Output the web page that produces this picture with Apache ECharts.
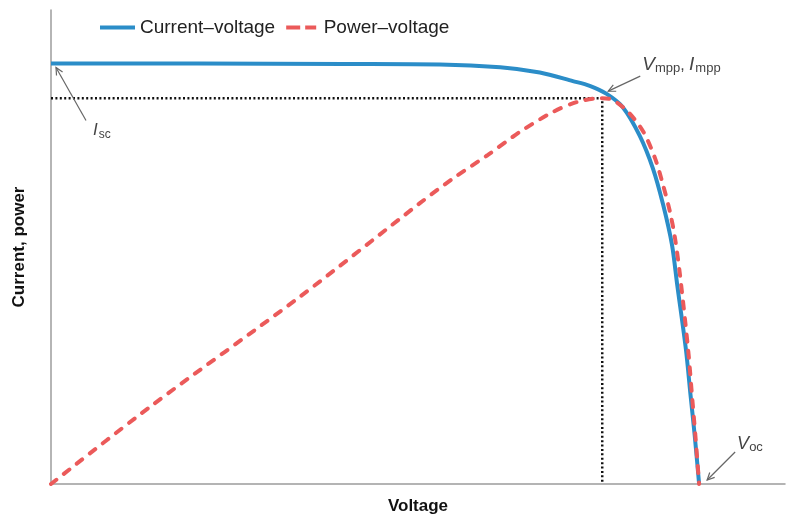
<!DOCTYPE html>
<html><head><meta charset="utf-8">
<script src="https://cdn.jsdelivr.net/npm/echarts@6/dist/echarts.min.js"></script>
<style>html,body{margin:0;padding:0;background:#fff}#c{width:786px;height:520px}</style>
</head><body><div id="c"></div>
<script>
// ---- data (arbitrary units; axes 0..100) ----
const seriesNames = ['Current\u2013voltage', 'Power\u2013voltage'];
const currentVoltage = [[0,88.7],[20,88.7],[40,88.6],[53,88.5],[61.2,87.9],[66.6,86.8],[71.1,85.0],[73.4,84.0],[75.7,82.3],[77.9,79.5],[80.2,73.5],[82.0,66.6],[83.4,58.9],[84.6,50.5],[85.3,42.2],[86.5,28.4],[87.1,19.2],[87.7,10.2],[88.3,0]];
const powerVoltage = [[0,0],[13.5,16.3],[33.9,39.5],[50.3,59.3],[54.8,64.5],[59.4,69.3],[63.9,74.3],[68.4,78.5],[71.7,80.6],[74.8,81.4],[76.2,81.2],[78.5,78.7],[80.7,74.3],[82.3,68.7],[83.4,63.0],[84.3,57.6],[85.0,52.0],[85.7,44.0],[86.8,28.4],[87.3,19.2],[87.8,10.0],[88.3,0]];
const mppVoltage = 75.1;
const mppLevel = 81.4;
const iscPoint = [0, 88.7];
const vocPoint = [88.3, 0];
const axisNames = ['Voltage', 'Current, power'];

const FONT = '"Liberation Sans", Arial, sans-serif';
const BLUE = '#2b8dc8', RED = '#eb5a5a';
const chart = echarts.init(document.getElementById('c'), null, {renderer: 'canvas'});

const axisCommon = {
  type: 'value', min: 0, max: 100,
  axisLine: {show: true, lineStyle: {color: '#9c9c9c', width: 1.5}},
  axisTick: {show: false}, axisLabel: {show: false}, splitLine: {show: false},
  nameLocation: 'middle',
  nameTextStyle: {fontFamily: FONT, fontWeight: 'bold', fontSize: 17, color: '#111'}
};

chart.setOption({
  animation: false,
  backgroundColor: '#fff',
  grid: {left: 51, right: 1, top: 10, bottom: 31},
  legend: {
    data: [
      {name: seriesNames[0], icon: 'path://M0,0h35v4h-35z', itemStyle: {color: BLUE}},
      {name: seriesNames[1], icon: 'path://M0,0h14v4h-14z M19,0h11v4h-11z', itemStyle: {color: RED}}
    ],
    left: 100, top: 18, padding: 0,
    itemWidth: 35, itemHeight: 4, itemGap: 11,
    textStyle: {fontFamily: FONT, fontSize: 19, color: '#222'}
  },
  xAxis: Object.assign({}, axisCommon, {name: axisNames[0], nameGap: 14}),
  yAxis: Object.assign({}, axisCommon, {name: axisNames[1], nameGap: 23}),
  series: [
    {
      type: 'line', silent: true, symbol: 'none', z: 1,
      data: [[0, mppLevel], [mppVoltage, mppLevel], [mppVoltage, 0]],
      lineStyle: {color: '#111', width: 2.5, type: [2, 2.4]}
    },
    {
      name: seriesNames[0], type: 'line', symbol: 'none', z: 2,
      smooth: 0.3,
      data: currentVoltage,
      itemStyle: {color: BLUE},
      lineStyle: {color: BLUE, width: 4}
    },
    {
      name: seriesNames[1], type: 'line', symbol: 'none', z: 3,
      smooth: 0.3,
      data: powerVoltage,
      itemStyle: {color: RED},
      lineStyle: {color: RED, width: 4, type: [7, 9.5], cap: 'round'}
    }
  ]
});

// ---- annotations (arrows + labels), positioned relative to data anchors ----
const ctx = document.createElement('canvas').getContext('2d');
function measure(t, size, italic) {
  ctx.font = (italic ? 'italic ' : '') + size + 'px ' + FONT;
  return ctx.measureText(t).width;
}
const toPx = p => chart.convertToPixel({gridIndex: 0}, p);
const elements = [];
function arrow(anchor, tail, tip) {
  const a = toPx(anchor);
  const t0 = [a[0] + tail[0], a[1] + tail[1]];
  const t1 = [a[0] + tip[0], a[1] + tip[1]];
  const ang = Math.atan2(t1[1] - t0[1], t1[0] - t0[0]);
  const L = 8, w = 0.45;
  const h1 = [t1[0] - L * Math.cos(ang - w), t1[1] - L * Math.sin(ang - w)];
  const h2 = [t1[0] - L * Math.cos(ang + w), t1[1] - L * Math.sin(ang + w)];
  const st = {stroke: '#666', lineWidth: 1.2, fill: null};
  elements.push({type: 'polyline', shape: {points: [t0, t1]}, style: st, z: 10});
  elements.push({type: 'polyline', shape: {points: [h1, t1, h2]}, style: st, z: 10});
}
function label(anchor, off, segs) {
  const a = toPx(anchor);
  let x = a[0] + off[0];
  const y = a[1] + off[1];
  segs.forEach(s => {
    elements.push({
      type: 'text', z: 10, x: x, y: y + (s.dy || 0),
      style: {text: s.t, fill: '#444', fontFamily: FONT, fontSize: s.size,
              fontStyle: s.italic ? 'italic' : 'normal', align: 'left', verticalAlign: 'middle'}
    });
    x += measure(s.t, s.size, s.italic) + (s.gap || 0);
  });
}
const mppPoint = [mppVoltage, mppLevel];
arrow(iscPoint, [35, 57], [5, 4]);
label(iscPoint, [42, 67], [{t: 'I', size: 17, italic: true, gap: 1}, {t: 'sc', size: 12, dy: 4}]);
arrow(mppPoint, [38, -22], [6, -7]);
label(mppPoint, [40, -33.5], [
  {t: 'V', size: 19, italic: true}, {t: 'mpp', size: 13, dy: 4},
  {t: ', ', size: 16, dy: 1}, {t: 'I', size: 19, italic: true, gap: 1}, {t: 'mpp', size: 13, dy: 4}
]);
arrow(vocPoint, [36, -32], [8, -4]);
label(vocPoint, [38, -40.5], [{t: 'V', size: 18, italic: true}, {t: 'oc', size: 13, dy: 4}]);
chart.setOption({graphic: {elements: elements}});
</script>
</body></html>
